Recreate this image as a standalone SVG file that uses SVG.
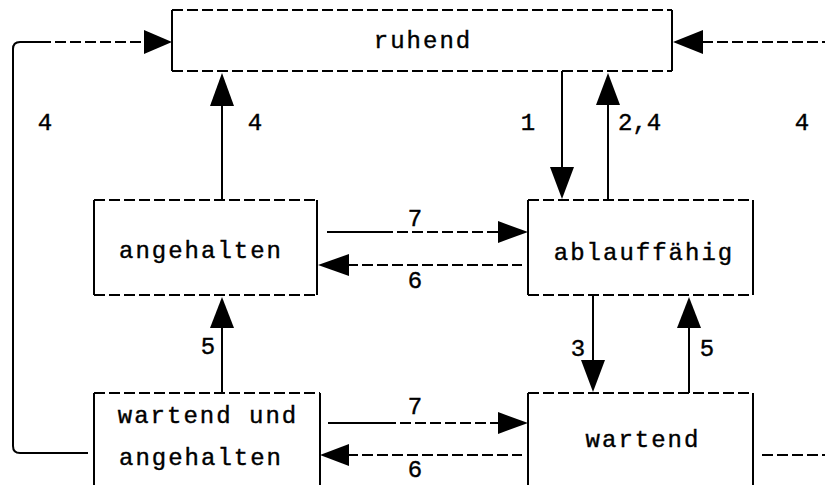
<svg xmlns="http://www.w3.org/2000/svg" width="825" height="485" viewBox="0 0 825 485">
<defs>
<style>
.bg{fill:#ffffff}
.edge{fill:none;stroke:#000;stroke-width:2}
.dash{fill:none;stroke:#000;stroke-width:2;stroke-dasharray:11 4}
.solid{fill:none;stroke:#000;stroke-width:2}
.head{fill:#000;stroke:none}
.t{font-family:"Liberation Mono","DejaVu Sans Mono",monospace;font-size:24px;letter-spacing:2px;fill:#000;stroke:#000;stroke-width:0.4}
.lbl{font-family:"Liberation Mono","DejaVu Sans Mono",monospace;font-size:24px;fill:#000;stroke:#000;stroke-width:0.4}
</style>
</defs>
<rect class="bg" x="0" y="0" width="825" height="485"/>

<g id="node-ruhend">
<path class="dash" d="M172 10 H672 M172 71 H672"/>
<path class="edge" d="M172 10 V71 M672 10 V71"/>
<text class="t" x="423" y="48" text-anchor="middle">ruhend</text>
</g>

<g id="node-angehalten">
<path class="dash" d="M94 200 H317 M94 295 H317"/>
<path class="edge" d="M94 200 V295 M317 200 V295"/>
<text class="t" x="201" y="258" text-anchor="middle">angehalten</text>
</g>

<g id="node-ablauffaehig">
<path class="dash" d="M528 200 H753 M528 295 H753"/>
<path class="edge" d="M528 200 V295 M753 200 V295"/>
<text class="t" x="644" y="260" text-anchor="middle">ablauffähig</text>
</g>

<g id="node-wartend-und-angehalten">
<path class="dash" d="M94 393 H320"/>
<path class="edge" d="M94 393 V490 M320 393 V490"/>
<text class="t" x="208" y="423" text-anchor="middle">wartend und</text>
<text class="t" x="201" y="465" text-anchor="middle">angehalten</text>
</g>

<g id="node-wartend">
<path class="dash" d="M528 393 H753"/>
<path class="edge" d="M528 393 V490 M753 393 V490"/>
<text class="t" x="643" y="447" text-anchor="middle">wartend</text>
</g>

<g id="connectors">
<path class="solid" d="M88 453 H20 Q13 453 13 446 V49 Q13 42 20 42 H40"/>
<path class="dash" d="M40 42 H145"/>
<polygon class="head" points="144,30 172,42 144,54"/>
<text class="lbl" x="45" y="130" text-anchor="middle">4</text>

<path class="dash" d="M762 455 H825"/>
<path class="dash" d="M702 42 H825"/>
<polygon class="head" points="703,30 673,42 703,54"/>
<text class="lbl" x="802" y="130" text-anchor="middle">4</text>

<path class="solid" d="M222 200 V104"/>
<polygon class="head" points="210,106 222,73 234,106"/>
<text class="lbl" x="255" y="130" text-anchor="middle">4</text>

<path class="solid" d="M562 71 V169"/>
<polygon class="head" points="550,167 562,199 574,167"/>
<text class="lbl" x="528" y="130" text-anchor="middle">1</text>

<path class="solid" d="M608 200 V103"/>
<polygon class="head" points="596,105 608,73 620,105"/>
<text class="lbl" x="618" y="130">2,4</text>

<path class="solid" d="M327 232 H382"/>
<path class="dash" d="M382 232 H500"/>
<polygon class="head" points="498,221 528,232 498,243"/>
<text class="lbl" x="415" y="226" text-anchor="middle">7</text>

<path class="dash" d="M347 265 H522"/>
<polygon class="head" points="349,254 318,265 349,276"/>
<text class="lbl" x="415" y="288" text-anchor="middle">6</text>

<path class="solid" d="M593 295 V362"/>
<polygon class="head" points="581,360 593,392 605,360"/>
<text class="lbl" x="578" y="356" text-anchor="middle">3</text>

<path class="solid" d="M689 393 V326"/>
<polygon class="head" points="677,328 689,297 701,328"/>
<text class="lbl" x="707" y="356" text-anchor="middle">5</text>

<path class="solid" d="M222 393 V326"/>
<polygon class="head" points="210,328 222,297 234,328"/>
<text class="lbl" x="208" y="354" text-anchor="middle">5</text>

<path class="solid" d="M328 423 H385"/>
<path class="dash" d="M385 423 H500"/>
<polygon class="head" points="498,412 528,423 498,434"/>
<text class="lbl" x="415" y="414" text-anchor="middle">7</text>

<path class="dash" d="M347 455 H522"/>
<polygon class="head" points="349,444 320,455 349,466"/>
<text class="lbl" x="415" y="477" text-anchor="middle">6</text>
</g>
</svg>
